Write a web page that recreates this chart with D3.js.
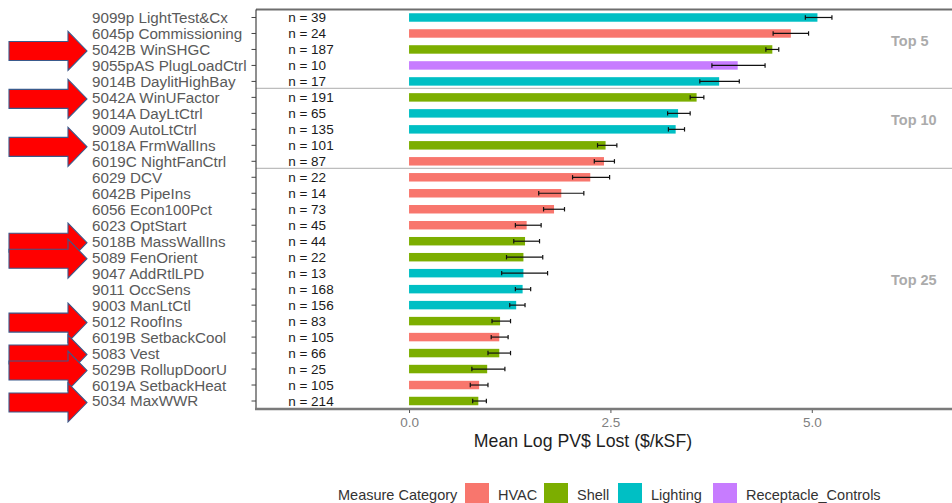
<!DOCTYPE html>
<html><head><meta charset="utf-8">
<script src="https://cdn.jsdelivr.net/npm/d3@7"></script>
<style>body{margin:0;background:#fff;overflow:hidden} svg{display:block;font-family:"Liberation Sans",Arial,sans-serif}</style>
</head><body><svg id="c" width="952" height="503"></svg>
<script>
const measures = ["9099p LightTest&Cx","6045p Commissioning","5042B WinSHGC","9055pAS PlugLoadCtrl","9014B DaylitHighBay","5042A WinUFactor","9014A DayLtCtrl","9009 AutoLtCtrl","5018A FrmWallIns","6019C NightFanCtrl","6029 DCV","6042B PipeIns","6056 Econ100Pct","6023 OptStart","5018B MassWallIns","5089 FenOrient","9047 AddRtlLPD","9011 OccSens","9003 ManLtCtl","5012 RoofIns","6019B SetbackCool","5083 Vest","5029B RollupDoorU","6019A SetbackHeat","5034 MaxWWR"];
const categories = ["Lighting","HVAC","Shell","Receptacle_Controls","Lighting","Shell","Lighting","Lighting","Shell","HVAC","HVAC","HVAC","HVAC","HVAC","Shell","Shell","Lighting","Lighting","Lighting","Shell","HVAC","Shell","Shell","HVAC","Shell"];
const counts = [39,24,187,10,17,191,65,135,101,87,22,14,73,45,44,22,13,168,156,83,105,66,25,105,214];
const means = [5.07,4.74,4.51,4.08,3.85,3.57,3.34,3.31,2.44,2.42,2.25,1.89,1.80,1.46,1.44,1.42,1.42,1.41,1.33,1.13,1.12,1.12,0.97,0.87,0.86];
const lower = [4.92,4.52,4.43,3.76,3.61,3.49,3.21,3.22,2.34,2.30,2.03,1.61,1.67,1.32,1.30,1.21,1.15,1.32,1.25,1.03,1.02,0.98,0.78,0.76,0.79];
const upper = [5.25,4.96,4.59,4.42,4.10,3.66,3.49,3.42,2.58,2.55,2.49,2.17,1.93,1.64,1.62,1.66,1.72,1.51,1.44,1.26,1.23,1.26,1.19,0.98,0.96];
const flagged = ["5042B WinSHGC","5042A WinUFactor","5018A FrmWallIns","5018B MassWallIns","5089 FenOrient","5012 RoofIns","5083 Vest","5029B RollupDoorU","5034 MaxWWR"];
const groupLabels = ["Top 5","Top 10","Top 25"];
const groupEnds = [5,10,25];
const xTicks = [0, 2.5, 5];
const legendKeys = ["HVAC","Shell","Lighting","Receptacle_Controls"];
const legendColors = ["#F8766D","#7CAE00","#00BFC4","#C77CFF"];

const svg = d3.select("#c");
const color = d3.scaleOrdinal().domain(legendKeys).range(legendColors);
const panel = {left:256, right:960, top:9.5, bottom:409};
const x = d3.scaleLinear().domain([-1.9, 6.84]).range([panel.left, panel.right]);
const y = d3.scaleBand().domain(measures).range([panel.top, panel.bottom]).paddingInner(0.47).paddingOuter(0.235);
const step = y.step();
const rows = measures.map((m,i)=>({m, cat:categories[i], n:counts[i], v:means[i], lo:lower[i], hi:upper[i]}));

// separators
groupEnds.slice(0,-1).forEach(e=>{
  const yy = panel.top + e*step - 1;
  svg.append("line").attr("x1",panel.left).attr("x2",952).attr("y1",yy).attr("y2",yy)
    .attr("stroke","#bdbdbd").attr("stroke-width",1.3);
});
// group labels
let start=0;
groupEnds.forEach((e,i)=>{
  const cy = panel.top + (start+e)/2*step - 9;
  svg.append("text").attr("x",891).attr("y",cy).attr("dy","0.35em")
    .attr("font-size",14.5).attr("font-weight","bold").attr("fill","#ababab").text(groupLabels[i]);
  start=e;
});

// bars
svg.append("g").selectAll("rect").data(rows).join("rect")
  .attr("x",x(0)).attr("y",d=>y(d.m)).attr("height",y.bandwidth())
  .attr("width",d=>x(d.v)-x(0)).attr("fill",d=>color(d.cat));

// error bars
const eb = svg.append("g").attr("stroke","#111").attr("stroke-width",1.2);
rows.forEach(d=>{
  const cy = y(d.m)+y.bandwidth()/2;
  eb.append("line").attr("x1",x(d.lo)).attr("x2",x(d.hi)).attr("y1",cy).attr("y2",cy);
  eb.append("line").attr("x1",x(d.lo)).attr("x2",x(d.lo)).attr("y1",cy-2.2).attr("y2",cy+2.2);
  eb.append("line").attr("x1",x(d.hi)).attr("x2",x(d.hi)).attr("y1",cy-2.2).attr("y2",cy+2.2);
});

// n labels
svg.append("g").selectAll("text").data(rows).join("text")
  .attr("x",x(-1.5)).attr("y",d=>y(d.m)+y.bandwidth()/2).attr("dy","0.35em")
  .attr("font-size",13.5).attr("fill","#1a1a1a").text(d=>"n = "+d.n);

// frame
svg.append("line").attr("x1",panel.left).attr("x2",952).attr("y1",panel.top).attr("y2",panel.top).attr("stroke","#6e6e6e").attr("stroke-width",1.8);
svg.append("line").attr("x1",panel.left).attr("x2",panel.left).attr("y1",panel.top).attr("y2",panel.bottom).attr("stroke","#333").attr("stroke-width",1.1);
svg.append("line").attr("x1",panel.left-1).attr("x2",952).attr("y1",panel.bottom).attr("y2",panel.bottom).attr("stroke","#7a7a7a").attr("stroke-width",2.4);

// y axis ticks & labels
svg.append("g").selectAll("line").data(measures).join("line")
  .attr("x1",panel.left-4.5).attr("x2",panel.left).attr("y1",d=>y(d)+y.bandwidth()/2).attr("y2",d=>y(d)+y.bandwidth()/2)
  .attr("stroke","#444").attr("stroke-width",1);
svg.append("g").selectAll("text").data(measures).join("text")
  .attr("x",92).attr("y",d=>y(d)+y.bandwidth()/2).attr("dy","0.36em")
  .attr("font-size",15.2).attr("fill","#5a5a5a").text(d=>d);

// x axis
const xa = svg.append("g").attr("transform",`translate(0,${panel.bottom+1})`)
  .call(d3.axisBottom(x).tickValues(xTicks).tickFormat(d3.format(".1f")).tickSize(3).tickPadding(4));
xa.select(".domain").remove();
xa.selectAll("line").attr("stroke","#555");
xa.selectAll("text").attr("font-size",13.5).attr("fill","#808080").attr("font-family","Liberation Sans, Arial, sans-serif");

svg.append("text").attr("x",583).attr("y",441).attr("dy","0.35em").attr("text-anchor","middle")
  .attr("font-size",17.7).attr("fill","#1e1e1e").text("Mean Log PV$ Lost ($/kSF)");

// legend
const lg = svg.append("g");
lg.append("text").attr("x",338).attr("y",495).attr("dy","0.35em").attr("font-size",14.5).attr("fill","#333").text("Measure Category");
const swX = [465,544,618,713];
legendKeys.forEach((k,i)=>{
  lg.append("rect").attr("x",swX[i]).attr("y",483).attr("width",24).attr("height",24).attr("fill",legendColors[i]);
  lg.append("text").attr("x",swX[i]+33).attr("y",495).attr("dy","0.35em").attr("font-size",14.5).attr("fill","#333").text(k);
});

// red arrows
const arrow = (cy)=>{
  const sx0=9, sx1=68, tip=87, sh=9.5, hh=19.5;
  return `M${sx0},${cy-sh}L${sx1},${cy-sh}L${sx1},${cy-hh}L${tip},${cy}L${sx1},${cy+hh}L${sx1},${cy+sh}L${sx0},${cy+sh}Z`;
};
svg.append("g").selectAll("path").data(flagged).join("path")
  .attr("d",d=>arrow(y(d)+y.bandwidth()/2+1.5))
  .attr("fill","#ff0000").attr("stroke","#3a5a8c").attr("stroke-width",1.1);
</script></body></html>
